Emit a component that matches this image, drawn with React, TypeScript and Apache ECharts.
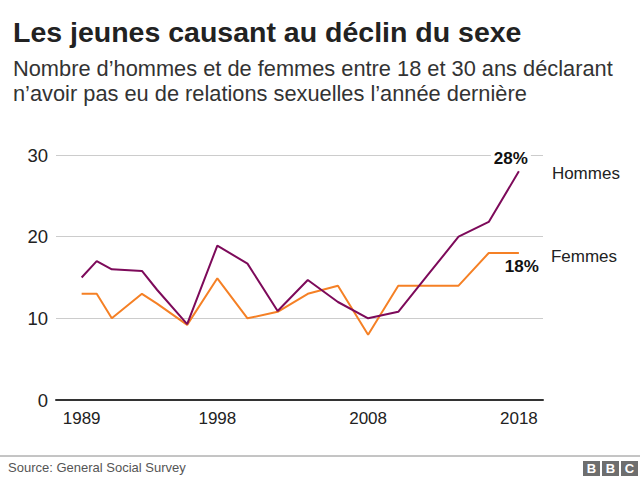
import React, { useEffect, useRef } from 'react';
import * as echarts from 'echarts';

const years = [1989, 1990, 1991, 1993, 1994, 1996, 1998, 2000, 2002, 2004, 2006, 2008, 2010, 2012, 2014, 2016, 2018];
const hommes = [15, 17, 16, 15.8, 13.5, 9.3, 18.9, 16.7, 10.9, 14.7, 12, 10, 10.8, 15.4, 20, 21.8, 28];
const femmes = [13, 13, 10, 13, 11.8, 9.2, 14.9, 10, 10.8, 13, 14, 8, 14, 14, 14, 18, 18];
const xTickLabels = [1989, 1998, 2008, 2018];
const yTicks = [0, 10, 20, 30];

const FONT = '"Liberation Sans", Arial, Helvetica, sans-serif';

const App: React.FC = () => {
  const chartRef = useRef<HTMLDivElement>(null);

  useEffect(() => {
    if (!chartRef.current) return;
    const chart = echarts.init(chartRef.current, undefined, { renderer: 'svg' });

    const last = years.length - 1;
    const toData = (vals: number[], lbl: any) =>
      vals.map((v, i) => (i === last ? { value: [years[i], v], label: lbl } : { value: [years[i], v] }));

    const option: echarts.EChartsOption = {
      animation: false,
      backgroundColor: '#fff',
      textStyle: { fontFamily: FONT },
      grid: { left: 56, right: 97, top: 155, bottom: 80 },
      xAxis: {
        type: 'value',
        min: 1987.3,
        max: 2019.6,
        axisLine: { show: true, lineStyle: { color: '#333', width: 2 } },
        axisTick: { show: false },
        splitLine: { show: false },
        axisLabel: {
          customValues: xTickLabels,
          formatter: (v: number) => String(v),
          fontSize: 17,
          color: '#222',
          margin: 10,
          fontFamily: FONT,
        },
      },
      yAxis: {
        type: 'value',
        min: 0,
        max: 30,
        interval: 10,
        axisLine: { show: false },
        axisTick: { show: false },
        splitLine: { lineStyle: { color: '#cccccc', width: 1 } },
        axisLabel: {
          customValues: yTicks,
          fontSize: 18.5,
          color: '#222',
          margin: 8,
          fontFamily: FONT,
        },
      },
      series: [
        {
          name: 'Hommes',
          type: 'line',
          symbol: 'circle',
          symbolSize: 0,
          showSymbol: true,
          lineStyle: { color: '#7d0a5a', width: 2 },
          itemStyle: { color: '#7d0a5a' },
          label: { show: false },
          data: toData(hommes, {
            show: true,
            position: 'top',
            distance: 4,
            offset: [-8, 0],
            formatter: '28%',
            fontSize: 17,
            fontWeight: 'bold',
            color: '#111',
            backgroundColor: '#fff',
            padding: [0, 3],
            fontFamily: FONT,
          }),
          endLabel: {
            show: true,
            formatter: 'Hommes',
            distance: 33,
            offset: [0, 2],
            fontSize: 17,
            color: '#222',
            fontFamily: FONT,
          },
          z: 3,
        },
        {
          name: 'Femmes',
          type: 'line',
          symbol: 'circle',
          symbolSize: 0,
          showSymbol: true,
          lineStyle: { color: '#f58025', width: 2 },
          itemStyle: { color: '#f58025' },
          label: { show: false },
          data: toData(femmes, {
            show: true,
            position: 'bottom',
            distance: 5,
            offset: [3, 0],
            formatter: '18%',
            fontSize: 17,
            fontWeight: 'bold',
            color: '#111',
            fontFamily: FONT,
          }),
          endLabel: {
            show: true,
            formatter: 'Femmes',
            distance: 32,
            offset: [0, 3],
            fontSize: 17,
            color: '#222',
            fontFamily: FONT,
          },
          z: 2,
        },
      ],
      graphic: [
        {
          type: 'text',
          left: 13,
          top: 17,
          style: {
            text: 'Les jeunes causant au déclin du sexe',
            font: `bold 28.5px ${FONT}`,
            fill: '#222',
          },
        },
        {
          type: 'text',
          left: 13,
          top: 56,
          style: {
            text: 'Nombre d’hommes et de femmes entre 18 et 30 ans déclarant\nn’avoir pas eu de relations sexuelles l’année dernière',
            font: `21.8px ${FONT}`,
            lineHeight: 25,
            fill: '#333',
          },
        },
        {
          type: 'line',
          shape: { x1: 0, y1: 456, x2: 640, y2: 456 },
          style: { stroke: '#8a8a8a', lineWidth: 1 },
        },
        {
          type: 'text',
          left: 8,
          top: 461,
          style: {
            text: 'Source: General Social Survey',
            font: `13px ${FONT}`,
            fill: '#555',
          },
        },
        {
          type: 'group',
          left: 583,
          top: 461,
          children: ['B', 'B', 'C'].flatMap((ch, i) => [
            {
              type: 'rect',
              shape: { x: i * 19, y: 0, width: 17, height: 15 },
              style: { fill: '#6e6e6e' },
            },
            {
              type: 'text',
              x: i * 19 + 8.5,
              y: 7.5,
              style: {
                text: ch,
                font: `bold 13px ${FONT}`,
                fill: '#fff',
                align: 'center',
                verticalAlign: 'middle',
              },
            },
          ]),
        },
      ],
    };

    chart.setOption(option);
    return () => {
      chart.dispose();
    };
  }, []);

  return <div ref={chartRef} style={{ position: 'fixed', left: 0, top: 0, width: 640, height: 480 }} />;
};

export default App;
